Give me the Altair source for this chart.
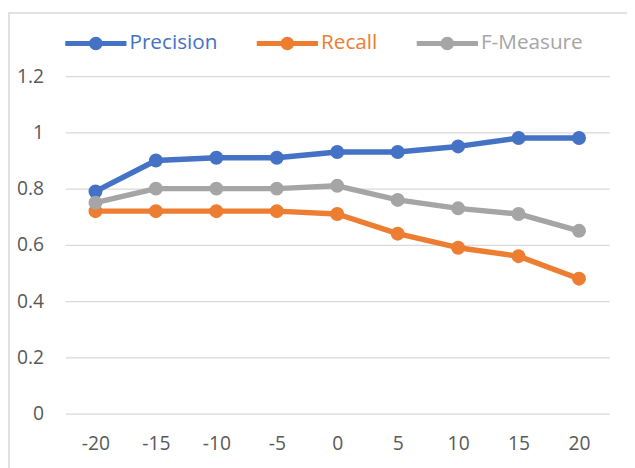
import altair as alt
import pandas as pd

x_vals = [-20, -15, -10, -5, 0, 5, 10, 15, 20]
precision = [0.79, 0.90, 0.91, 0.91, 0.93, 0.93, 0.95, 0.98, 0.98]
recall = [0.72, 0.72, 0.72, 0.72, 0.71, 0.64, 0.59, 0.56, 0.48]
fmeasure = [0.75, 0.80, 0.80, 0.80, 0.81, 0.76, 0.73, 0.71, 0.65]
series = ["Precision", "Recall", "F-Measure"]
colors = ["#4472C4", "#ED7D31", "#A5A5A5"]
y_ticks = [0, 0.2, 0.4, 0.6, 0.8, 1.0, 1.2]

rows = []
for name, vals in zip(series, [precision, recall, fmeasure]):
    for x, v in zip(x_vals, vals):
        rows.append({"x": x, "value": v, "series": name})
df = pd.DataFrame(rows)

W, H = 551, 342
FONT = "Open Sans"
LABEL = "#595959"

x_enc = alt.X(
    "x:O", sort=x_vals, scale=alt.Scale(padding=0.5),
    axis=alt.Axis(title=None, labelAngle=0, domain=False, ticks=False, grid=False,
                  labelFontSize=19.5, labelColor=LABEL, labelPadding=21, labelFont=FONT),
)
y_enc = alt.Y(
    "value:Q", scale=alt.Scale(domain=[0, 1.2], nice=False, zero=True),
    axis=alt.Axis(title=None, values=y_ticks, format="~g", domain=False, ticks=False,
                  grid=True, gridColor="#D9D9D9", gridWidth=1.3,
                  labelFontSize=19.5, labelColor=LABEL, labelPadding=22, labelFont=FONT),
)
color_scale = alt.Scale(domain=series, range=colors)

sym_path = ("M -1 -0.085 L 1 -0.085 L 1 0.085 L -1 0.085 Z "
            "M 0.22 0 A 0.22 0.22 0 1 1 -0.22 0 A 0.22 0.22 0 1 1 0.22 0 Z")

legend = alt.Legend(
    title=None, orient="none", legendX=0, legendY=-64, direction="horizontal",
    columnPadding=39, labelOffset=3, symbolType=sym_path, symbolSize=3844,
    symbolStrokeWidth=0, labelFontSize=21, labelFont=FONT,
    labelColor={"expr": "datum.label === 'Precision' ? '#4472C4' : datum.label === 'Recall' ? '#ED7D31' : '#A5A5A5'"},
)

frame = alt.Chart(pd.DataFrame({"a": [0]})).mark_rect(
    fillOpacity=0, stroke="#D9D9D9", strokeWidth=1.5
).encode(x=alt.value(-57), x2=alt.value(W + 60), y=alt.value(-64), y2=alt.value(H + 90))

lines = alt.Chart(df).mark_line(strokeWidth=5.5, strokeCap="round", strokeJoin="round").encode(
    x=x_enc, y=y_enc,
    color=alt.Color("series:N", scale=color_scale, legend=None),
)
points = alt.Chart(df).mark_circle(size=200, opacity=1).encode(
    x=x_enc, y=y_enc,
    color=alt.Color("series:N", scale=color_scale, legend=legend),
)

chart = alt.layer(frame, lines, points).resolve_legend(color="independent").properties(
    width=W, height=H,
    autosize=alt.AutoSizeParams(type="none"),
    padding={"left": 58, "top": 66, "right": 18, "bottom": 52},
).configure_view(strokeWidth=0)

chart.save("out.html", embed_options={"renderer": "svg", "actions": False})
